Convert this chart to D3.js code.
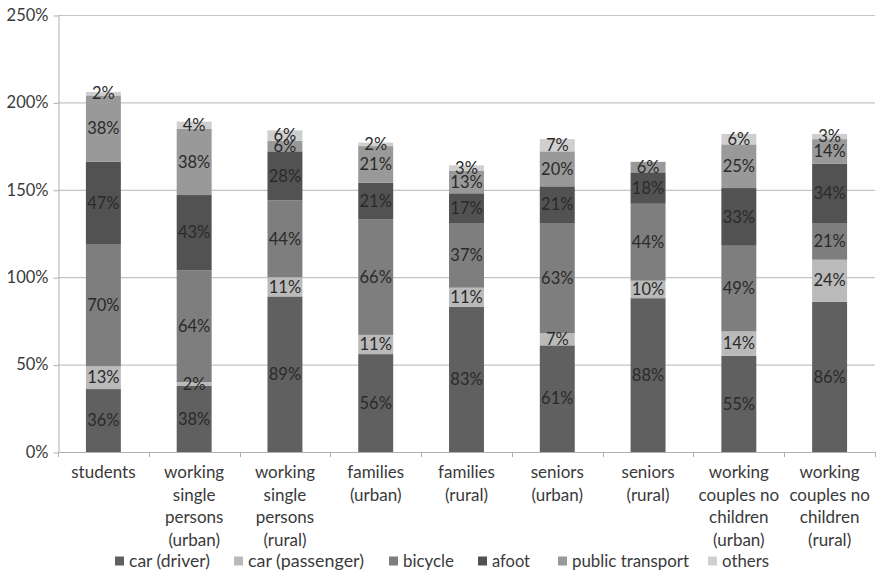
<!DOCTYPE html>
<html>
<head>
<meta charset="utf-8">
<script src="https://cdn.jsdelivr.net/npm/d3@7"></script>
<style>
  html, body { margin: 0; padding: 0; background: #fff; }
  svg { display: block; font-family: Lato, "Open Sans", sans-serif; }
</style>
</head>
<body>
<svg id="chart" width="876" height="573"></svg>
<script>
// Mode share by household type (stacked, percent)
const categories = [
  ["students"],
  ["working", "single", "persons", "(urban)"],
  ["working", "single", "persons", "(rural)"],
  ["families", "(urban)"],
  ["families", "(rural)"],
  ["seniors", "(urban)"],
  ["seniors", "(rural)"],
  ["working", "couples no", "children", "(urban)"],
  ["working", "couples no", "children", "(rural)"]
];
const seriesNames = ["car (driver)", "car (passenger)", "bicycle", "afoot", "public transport", "others"];
const carDriver     = [36, 38, 89, 56, 83, 61, 88, 55, 86];
const carPassenger  = [13, 2, 11, 11, 11, 7, 10, 14, 24];
const bicycle       = [70, 64, 44, 66, 37, 63, 44, 49, 21];
const afoot         = [47, 43, 28, 21, 17, 21, 18, 33, 34];
const publicTransport = [38, 38, 6, 21, 13, 20, 6, 25, 14];
const others        = [2, 4, 6, 2, 3, 7, 0, 6, 3];
const yTicks = [0, 50, 100, 150, 200, 250];
const seriesColors = ["#606060", "#bababa", "#7e7e7e", "#525252", "#999999", "#cfcfcf"];

const seriesValues = [carDriver, carPassenger, bicycle, afoot, publicTransport, others];
const rows = categories.map((c, i) => {
  const r = { idx: i };
  seriesNames.forEach((s, k) => { r[s] = seriesValues[k][i]; });
  return r;
});

const svg = d3.select("#chart");
const margin = { left: 58, right: 1, top: 15, bottom: 121 };
const W = 876, H = 573;
const plotW = W - margin.left - margin.right;
const plotH = H - margin.top - margin.bottom;
const fs = 16.5;   // tick and value labels
const fsCat = 17;  // category and legend labels

const x = d3.scaleBand().domain(d3.range(categories.length))
  .range([margin.left, margin.left + plotW]).paddingInner(0.615).paddingOuter(0.3075);
const y = d3.scaleLinear().domain([0, 250]).range([margin.top + plotH, margin.top]);

// gridlines
svg.append("g").selectAll("line").data(yTicks.filter(t => t > 0)).join("line")
  .attr("x1", margin.left).attr("x2", margin.left + plotW)
  .attr("y1", d => y(d) + 0.5).attr("y2", d => y(d) + 0.5)
  .attr("stroke", "#c4c4c4").attr("stroke-width", 1.2);

// y axis
const yAxis = svg.append("g").attr("transform", `translate(${margin.left + 0.5},0)`)
  .call(d3.axisLeft(y).tickValues(yTicks).tickFormat(d => d + "%").tickSize(5).tickSizeOuter(0));
yAxis.select(".domain").attr("stroke", "#b0b0b0");
yAxis.selectAll(".tick line").attr("stroke", "#b0b0b0").attr("transform", "translate(0,0.5)");
yAxis.selectAll(".tick text").attr("font-size", fs).attr("fill", "#3a3a3a")
  .attr("font-family", "Lato, sans-serif").attr("x", -10);

// stacked bars
const stack = d3.stack().keys(seriesNames)(rows);
const layers = svg.append("g").selectAll("g").data(stack).join("g")
  .attr("fill", (d, i) => seriesColors[i]);
layers.selectAll("rect").data(d => d).join("rect")
  .attr("x", d => x(d.data.idx))
  .attr("width", x.bandwidth())
  .attr("y", d => y(d[1]))
  .attr("height", d => y(d[0]) - y(d[1]));

// value labels
const labels = svg.append("g").attr("font-size", fs).attr("fill", "#2a2a2a")
  .attr("text-anchor", "middle");
stack.forEach(layer => {
  layer.forEach(d => {
    const v = d[1] - d[0];
    if (v <= 0) return;
    labels.append("text")
      .attr("x", x(d.data.idx) + x.bandwidth() / 2)
      .attr("y", (y(d[0]) + y(d[1])) / 2)
      .attr("dy", "0.35em")
      .text(v + "%");
  });
});

// x axis
const x0 = y(0);
const xAxis = svg.append("g");
xAxis.append("line").attr("x1", margin.left).attr("x2", margin.left + plotW)
  .attr("y1", x0 + 0.5).attr("y2", x0 + 0.5).attr("stroke", "#b0b0b0");
const step = x.step();
xAxis.selectAll("line.tk").data(d3.range(categories.length + 1)).join("line")
  .attr("class", "tk")
  .attr("x1", i => Math.round(margin.left + i * step) + 0.5)
  .attr("x2", i => Math.round(margin.left + i * step) + 0.5)
  .attr("y1", x0).attr("y2", x0 + 5).attr("stroke", "#b0b0b0");
const catText = xAxis.selectAll("text").data(categories).join("text")
  .attr("text-anchor", "middle").attr("font-size", fsCat).attr("fill", "#3a3a3a")
  .attr("x", (d, i) => x(i) + x.bandwidth() / 2)
  .attr("y", x0 + 26);
catText.selectAll("tspan").data(d => d).join("tspan")
  .attr("x", function () { return d3.select(this.parentNode).attr("x"); })
  .attr("dy", (d, i) => i === 0 ? 0 : 22.5)
  .text(d => d);

// legend: swatch left edges and text widths
const legendX = [115, 234, 389, 478, 558, 708];
const legendW = [81, 116, 51, 38, 117, 47];
const legend = svg.append("g").attr("transform", "translate(0,561)");
seriesNames.forEach((name, i) => {
  const g = legend.append("g").attr("transform", `translate(${legendX[i]},0)`);
  g.append("rect").attr("x", 0).attr("y", -4.5).attr("width", 9).attr("height", 9)
    .attr("fill", seriesColors[i]);
  g.append("text").attr("x", 14).attr("dy", "0.35em")
    .attr("font-size", fsCat).attr("fill", "#3a3a3a")
    .attr("textLength", legendW[i]).attr("lengthAdjust", "spacingAndGlyphs")
    .text(name);
});
</script>
</body>
</html>
